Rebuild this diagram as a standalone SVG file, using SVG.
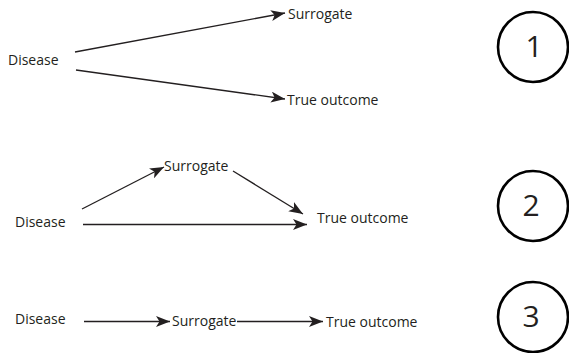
<svg xmlns="http://www.w3.org/2000/svg" width="569" height="353" viewBox="0 0 569 353">
<style>
.t{font-family:"Open Sans","Liberation Sans",sans-serif;font-size:14px;fill:#231f20}
.n{font-family:"Open Sans","Liberation Sans",sans-serif;font-size:30px;fill:#231f20;text-anchor:middle}
.c{fill:none;stroke:#000;stroke-width:2.6}
.e{fill:none;stroke:#231f20;stroke-width:1.3;marker-end:url(#ah)}
</style>
<defs>
<marker id="ah" markerUnits="userSpaceOnUse" markerWidth="15" markerHeight="11" viewBox="0 0 15 11" refX="14" refY="5.5" orient="auto">
<path d="M0,0 L14,5.5 L0,11 L3.5,5.5 z" fill="#231f20"/>
</marker>
</defs>
<rect width="569" height="353" fill="#fff"/>
<g id="connectors">
<line class="e" x1="75" y1="52" x2="285" y2="13"/>
<line class="e" x1="76" y1="70" x2="285" y2="99"/>
<line class="e" x1="82" y1="209" x2="164" y2="167"/>
<line class="e" x1="233" y1="171" x2="303" y2="214"/>
<line class="e" x1="83" y1="224.5" x2="307" y2="224.5"/>
<line class="e" x1="84" y1="321.5" x2="170" y2="321.5"/>
<line class="e" x1="237" y1="321.5" x2="323" y2="321.5"/>
</g>
<g id="d1"><text class="t" x="8" y="65">Disease</text></g>
<g id="s1"><text class="t" x="288" y="19">Surrogate</text></g>
<g id="o1"><text class="t" x="287" y="105">True outcome</text></g>
<g id="d2"><text class="t" x="15" y="227">Disease</text></g>
<g id="s2"><text class="t" x="164" y="171">Surrogate</text></g>
<g id="o2"><text class="t" x="317" y="223">True outcome</text></g>
<g id="d3"><text class="t" x="15" y="324">Disease</text></g>
<g id="s3"><text class="t" x="172" y="326">Surrogate</text></g>
<g id="o3"><text class="t" x="326" y="327">True outcome</text></g>
<g id="c1"><circle class="c" cx="533" cy="47" r="35"/><text class="n" x="534" y="57">1</text></g>
<g id="c2"><circle class="c" cx="533" cy="206" r="35"/><text class="n" x="531" y="216">2</text></g>
<g id="c3"><circle class="c" cx="533" cy="317" r="35"/><text class="n" x="531" y="327">3</text></g>
</svg>
